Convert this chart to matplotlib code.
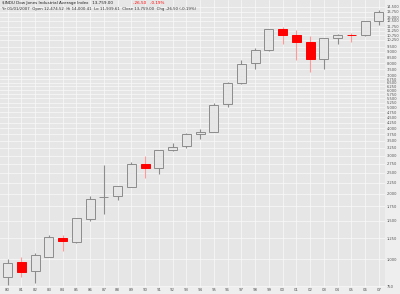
import numpy as np
import matplotlib
matplotlib.use("Agg")
from matplotlib import pyplot as plt
from matplotlib.ticker import FixedLocator, FixedFormatter

# Yearly candles, Dow Jones Industrial Average 1980-2007
years = ['80', '81', '82', '83', '84', '85', '86', '87', '88', '89',
         '90', '91', '92', '93', '94', '95', '96', '97', '98', '99',
         '00', '01', '02', '03', '04', '05', '06', '07']
opens = [824.6, 972.8, 882.5, 1027.0, 1252.7, 1198.9, 1537.7, 1927.3, 1950.4, 2144.6,
         2753.2, 2633.7, 3172.4, 3309.2, 3756.6, 3838.5, 5177.5, 6442.5, 7965.0, 9184.3,
         11501.9, 10790.9, 10021.7, 8342.4, 10452.7, 10783.8, 10718.3, 12474.5]
highs = [1000.2, 1024.1, 1070.6, 1287.2, 1286.6, 1553.1, 1955.6, 2722.4, 2183.5, 2791.4,
         2999.8, 3168.8, 3413.2, 3794.3, 3978.4, 5216.5, 6560.9, 8259.3, 9374.3, 11497.1,
         11723.0, 11337.9, 10673.1, 10453.9, 10854.5, 10940.6, 12510.6, 14000.4]
lows = [759.1, 824.0, 776.9, 1027.0, 1086.6, 1185.0, 1502.3, 1616.2, 1879.1, 2144.6,
        2365.1, 2470.3, 3136.6, 3242.0, 3593.4, 3832.1, 5032.9, 6391.7, 7539.1, 9120.7,
        9796.0, 8235.8, 7286.3, 7524.1, 9750.0, 10012.4, 10667.4, 11939.6]
closes = [964.0, 875.0, 1046.5, 1258.6, 1211.6, 1546.7, 1896.0, 1938.8, 2168.6, 2753.2,
          2633.7, 3168.8, 3301.1, 3754.1, 3834.4, 5117.1, 6448.3, 7908.3, 9181.4, 11497.1,
          10788.0, 10021.5, 8341.6, 10453.9, 10783.0, 10717.5, 12463.2, 13759.0]

yticks = list(range(750, 7001, 250)) + [7500, 8000, 8500, 9000, 9500, 10250, 10750,
                                         11250, 11750, 12500, 13000, 13750, 14500]

BG = '#e6e6e6'

fig = plt.figure(figsize=(4.0, 2.94), dpi=100, facecolor='#eeeeee')
ax = fig.add_axes([0.0, 0.024, 0.9625, 0.976], facecolor=BG)

x = np.arange(len(years))
o = np.array(opens)
c = np.array(closes)
up = c >= o

# wicks
ax.vlines(x[up], np.array(lows)[up], np.array(highs)[up], color='#8c8c8c', lw=0.8, zorder=2)
ax.vlines(x[~up], np.array(lows)[~up], np.array(highs)[~up], color='#ff9a9a', lw=0.8, zorder=2)

# bodies
bottom = np.minimum(o, c)
height = np.abs(c - o)
ax.bar(x[up], height[up], bottom=bottom[up], width=0.66,
       facecolor=BG, edgecolor='#8c8c8c', linewidth=0.7, zorder=3)
ax.bar(x[~up], height[~up], bottom=bottom[~up], width=0.66,
       facecolor='#ff0000', edgecolor='#ff0000', linewidth=0.7, zorder=3)

ax.set_yscale('log')
ax.set_ylim(745, 15600)
ax.set_xlim(-0.55, 27.45)

ax.yaxis.set_major_locator(FixedLocator(yticks))
ax.yaxis.set_major_formatter(FixedFormatter([f'{v:,}' for v in yticks]))
ax.yaxis.set_minor_locator(FixedLocator([]))
ax.yaxis.tick_right()
ax.set_xticks(x)
ax.set_xticklabels(years)
ax.tick_params(axis='y', length=0, pad=1.0, labelsize=2.6, labelcolor='#555555')
ax.tick_params(axis='x', length=0, pad=0.8, labelsize=2.8, labelcolor='#555555')

ax.grid(True, which='major', color='#fafafa', lw=0.5, zorder=0)
ax.set_axisbelow(True)
for s in ax.spines.values():
    s.set_visible(False)

# header text
ax.text(0.005, 0.995, '$INDU Dow Jones Industrial Average Index   13,759.00',
        transform=ax.transAxes, fontsize=3.0, va='top', ha='left', color='#222222')
ax.text(0.345, 0.995, '-26.50   -0.19%', transform=ax.transAxes, fontsize=3.0,
        va='top', ha='left', color='#ff0000')
ax.text(0.005, 0.975,
        'Yr 01/01/2007  Open 12,474.52  Hi 14,000.41  Lo 11,939.61  Close 13,759.00  Chg -26.50 (-0.19%)',
        transform=ax.transAxes, fontsize=2.8, va='top', ha='left', color='#333333')

fig.savefig('out.png', dpi=100, facecolor=fig.get_facecolor())
